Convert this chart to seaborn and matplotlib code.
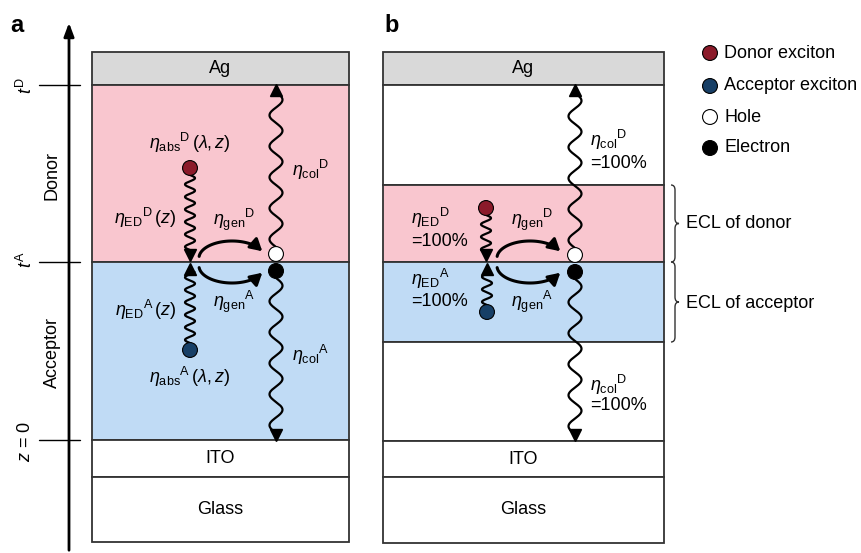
import numpy as np
import pandas as pd
import matplotlib
matplotlib.use('Agg')
import matplotlib.pyplot as plt
import seaborn as sns
from matplotlib.patches import Rectangle, PathPatch
from matplotlib.path import Path

sns.set_style('white')
plt.rcParams['font.family'] = ['Liberation Sans', 'DejaVu Sans']
plt.rcParams['text.color'] = 'black'
plt.rcParams['mathtext.fontset'] = 'custom'
plt.rcParams['mathtext.rm'] = 'Liberation Sans'
plt.rcParams['mathtext.it'] = 'Liberation Sans:italic'

# layer stacks (pixel rows of the boundaries, top to bottom)
a_names = ['Ag', '', '', 'ITO', 'Glass']
a_edges = [52, 85, 262, 440, 477, 542]
a_colors = ['#d9d9d9', '#f9c6cf', '#c0dbf5', 'white', 'white']
a_x = [92, 349]

b_names = ['Ag', '', '', '', '', 'ITO', 'Glass']
b_edges = [52, 85, 185, 262, 342, 441, 477, 543]
b_colors = ['#d9d9d9', 'white', '#f9c6cf', '#c0dbf5', 'white', 'white', 'white']
b_x = [383, 664]

# particles
parts = pd.DataFrame({
    'x': [190, 190, 276, 276, 486, 487, 575, 575],
    'y': [168, 350, 254, 271, 208, 312, 255, 272],
    'kind': ['Donor exciton', 'Acceptor exciton', 'Hole', 'Electron',
             'Donor exciton', 'Acceptor exciton', 'Hole', 'Electron'],
})
kinds = ['Donor exciton', 'Acceptor exciton', 'Hole', 'Electron']
kind_colors = {'Donor exciton': '#8b1a2a', 'Acceptor exciton': '#173f66',
               'Hole': 'white', 'Electron': 'black'}

fig = plt.figure(figsize=(8.61, 5.53), dpi=100)
ax = fig.add_axes([0, 0, 1, 1])
ax.set_xlim(0, 861)
ax.set_ylim(553, 0)
ax.axis('off')

FS = 13


def stack(names, edges, colors, xs):
    for i, nm in enumerate(names):
        ax.add_patch(Rectangle((xs[0], edges[i]), xs[1] - xs[0], edges[i + 1] - edges[i],
                               facecolor=colors[i], edgecolor='#333333', lw=1.3, zorder=1))
        if nm:
            ax.text((xs[0] + xs[1]) / 2, (edges[i] + edges[i + 1]) / 2, nm,
                    ha='center', va='center', fontsize=FS, zorder=3)


stack(a_names, a_edges, a_colors, a_x)
stack(b_names, b_edges, b_colors, b_x)


def wave(x, y0, y1, amp, wl, head):
    yy = np.linspace(y0, y1, 300)
    xx = x + amp * np.sin(2 * np.pi * (yy - y0) / wl)
    ax.plot(xx, yy, color='black', lw=1.6, zorder=4)
    ax.plot([x, x], [y1, y1 + (3 if head == 'v' else -3)], color='black', lw=1.6, zorder=4)
    ax.plot([x], [y1 + (3 if head == 'v' else -3)], marker=head, color='black',
            markersize=8.5, zorder=5)


# panel a waves
wave(190, 175, 252, 5, 12.5, 'v')
wave(190, 343, 272, 5, 12.5, '^')
wave(276, 247, 93, 6.5, 31, '^')
wave(276, 278, 432, 6.5, 31, 'v')
# panel b waves
wave(486, 215, 252, 5, 12.5, 'v')
wave(487, 305, 272, 5, 12.5, '^')
wave(575, 248, 93, 6.5, 31, '^')
wave(575, 279, 432, 6.5, 31, 'v')


def arc(xc, yc, up):
    # half-ellipse arc with an arrow head at the right end
    s = -1 if up else 1
    t = np.linspace(np.pi * 0.97, np.pi * 0.13, 100)
    xx = xc + 33 * np.cos(t)
    yy = yc + s * 17 * np.sin(t)
    ax.plot(xx[:-8], yy[:-8], color='black', lw=2.2, zorder=4)
    ax.annotate('', xy=(xx[-1], yy[-1]), xytext=(xx[-10], yy[-10]),
                arrowprops=dict(arrowstyle='-|>,head_length=0.7,head_width=0.4',
                                color='black', lw=2.2, shrinkA=0, shrinkB=0), zorder=5)


arc(232, 258, True)
arc(232, 266, False)
arc(530, 258, True)
arc(530, 266, False)

sns.scatterplot(data=parts, x='x', y='y', hue='kind', palette=kind_colors, s=115,
                edgecolor='black', linewidth=0.8, legend=False, ax=ax, zorder=6)

# legend
leg = pd.DataFrame({'x': [710] * 4, 'y': [53, 86, 117, 148], 'kind': kinds})
sns.scatterplot(data=leg, x='x', y='y', hue='kind', palette=kind_colors, s=115,
                edgecolor='black', linewidth=0.8, legend=False, ax=ax, zorder=6)
for yy, k in zip(leg['y'], kinds):
    ax.text(724, yy, k, ha='left', va='center', fontsize=FS)

# height axis
ax.annotate('', xy=(69, 20), xytext=(69, 553),
            arrowprops=dict(arrowstyle='-|>,head_length=0.8,head_width=0.3', lw=2, color='black'))
for yy in [85, 262, 440]:
    ax.plot([39, 80], [yy, yy], color='black', lw=1)
ax.text(26, 86, r'$t^{\rm D}$', rotation=90, ha='center', va='center', fontsize=FS)
ax.text(26, 260, r'$t^{\rm A}$', rotation=90, ha='center', va='center', fontsize=FS)
ax.text(26, 442, r'$z$ = 0', rotation=90, ha='center', va='center', fontsize=FS)
ax.text(52, 175, 'Donor', rotation=90, ha='center', va='center', fontsize=FS)
ax.text(52, 353, 'Acceptor', rotation=90, ha='center', va='center', fontsize=FS)

ax.text(10, 25, 'a', fontsize=17, fontweight='bold', ha='left', va='center')
ax.text(384, 25, 'b', fontsize=17, fontweight='bold', ha='left', va='center')

# efficiency labels
ax.text(190, 143, r'$\eta_{\rm abs}{}^{\rm D}\,(\lambda,z)$', ha='center', va='center', fontsize=FS)
ax.text(292, 170, r'$\eta_{\rm col}{}^{\rm D}$', ha='left', va='center', fontsize=FS)
ax.text(176, 218, r'$\eta_{\rm ED}{}^{\rm D}\,(z)$', ha='right', va='center', fontsize=FS)
ax.text(234, 220, r'$\eta_{\rm gen}{}^{\rm D}$', ha='center', va='center', fontsize=FS)
ax.text(234, 302, r'$\eta_{\rm gen}{}^{\rm A}$', ha='center', va='center', fontsize=FS)
ax.text(176, 310, r'$\eta_{\rm ED}{}^{\rm A}\,(z)$', ha='right', va='center', fontsize=FS)
ax.text(292, 355, r'$\eta_{\rm col}{}^{\rm A}$', ha='left', va='center', fontsize=FS)
ax.text(190, 377, r'$\eta_{\rm abs}{}^{\rm A}\,(\lambda,z)$', ha='center', va='center', fontsize=FS)

ax.text(590, 140, r'$\eta_{\rm col}{}^{\rm D}$', ha='left', va='center', fontsize=FS)
ax.text(590, 163, '=100%', ha='left', va='center', fontsize=FS)
ax.text(411, 218, r'$\eta_{\rm ED}{}^{\rm D}$', ha='left', va='center', fontsize=FS)
ax.text(411, 241, '=100%', ha='left', va='center', fontsize=FS)
ax.text(532, 220, r'$\eta_{\rm gen}{}^{\rm D}$', ha='center', va='center', fontsize=FS)
ax.text(411, 279, r'$\eta_{\rm ED}{}^{\rm A}$', ha='left', va='center', fontsize=FS)
ax.text(411, 301, '=100%', ha='left', va='center', fontsize=FS)
ax.text(532, 302, r'$\eta_{\rm gen}{}^{\rm A}$', ha='center', va='center', fontsize=FS)
ax.text(590, 385, r'$\eta_{\rm col}{}^{\rm D}$', ha='left', va='center', fontsize=FS)
ax.text(590, 406, '=100%', ha='left', va='center', fontsize=FS)


def brace(x0, y0, y1, w=8, r=5):
    ym = (y0 + y1) / 2
    xm = x0 + w / 2
    verts = [(x0, y0), (xm, y0), (xm, y0 + r),
             (xm, ym - r),
             (xm, ym), (x0 + w, ym),
             (xm, ym), (xm, ym + r),
             (xm, y1 - r),
             (xm, y1), (x0, y1)]
    codes = [Path.MOVETO, Path.CURVE3, Path.CURVE3, Path.LINETO,
             Path.CURVE3, Path.CURVE3, Path.CURVE3, Path.CURVE3,
             Path.LINETO, Path.CURVE3, Path.CURVE3]
    ax.add_patch(PathPatch(Path(verts, codes), facecolor='none', edgecolor='#333333', lw=1))


brace(671, 185, 262)
brace(671, 262, 342)
ax.text(686, 223, 'ECL of donor', ha='left', va='center', fontsize=FS)
ax.text(686, 303, 'ECL of acceptor', ha='left', va='center', fontsize=FS)

fig.savefig('out.png', dpi=100)
